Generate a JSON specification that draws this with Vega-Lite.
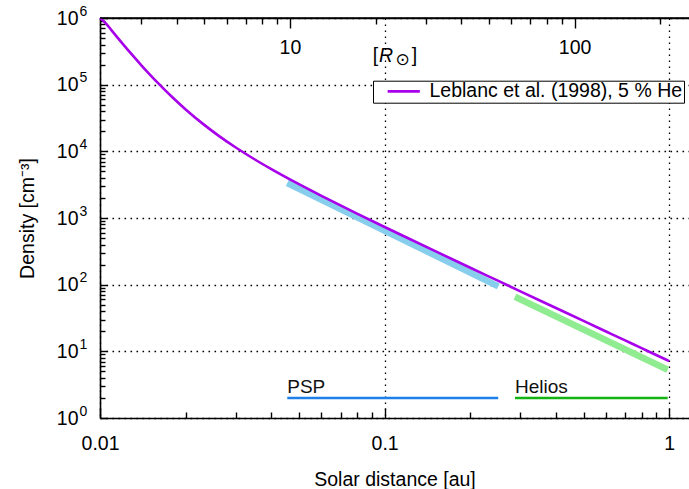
{
  "$schema": "https://vega.github.io/schema/vega-lite/v6.json",
  "width": 590,
  "height": 400,
  "autosize": {"type": "none"},
  "padding": {"left": 100, "top": 18, "right": 0, "bottom": 71},
  "background": "white",
  "config": {
    "view": {"stroke": null},
    "font": "Liberation Sans",
    "axis": {
      "domain": true,
      "ticks": true,
      "domainColor": "black",
      "domainWidth": 1.6,
      "tickColor": "black",
      "tickWidth": 1.4,
      "labelFont": "Liberation Sans",
      "labelFontSize": 19.5,
      "labelColor": "black",
      "labelOverlap": false,
      "labelFlush": false,
      "labelBound": false,
      "titleFont": "Liberation Sans",
      "titleFontSize": 19.5,
      "titleFontWeight": "normal",
      "titleColor": "black"
    }
  },
  "datasets": {
    "model": [
      {"series": "Leblanc et al. (1998), 5 % He", "r_au": 0.01, "n": 1000000},
      {"series": "Leblanc et al. (1998), 5 % He", "r_au": 0.0105, "n": 826365},
      {"series": "Leblanc et al. (1998), 5 % He", "r_au": 0.011, "n": 646737},
      {"series": "Leblanc et al. (1998), 5 % He", "r_au": 0.012, "n": 413053},
      {"series": "Leblanc et al. (1998), 5 % He", "r_au": 0.013, "n": 277024},
      {"series": "Leblanc et al. (1998), 5 % He", "r_au": 0.014, "n": 193807},
      {"series": "Leblanc et al. (1998), 5 % He", "r_au": 0.015, "n": 140643},
      {"series": "Leblanc et al. (1998), 5 % He", "r_au": 0.016, "n": 105372},
      {"series": "Leblanc et al. (1998), 5 % He", "r_au": 0.018, "n": 64087},
      {"series": "Leblanc et al. (1998), 5 % He", "r_au": 0.02, "n": 42471},
      {"series": "Leblanc et al. (1998), 5 % He", "r_au": 0.023, "n": 25810},
      {"series": "Leblanc et al. (1998), 5 % He", "r_au": 0.026, "n": 17374},
      {"series": "Leblanc et al. (1998), 5 % He", "r_au": 0.03, "n": 11407},
      {"series": "Leblanc et al. (1998), 5 % He", "r_au": 0.035, "n": 7544},
      {"series": "Leblanc et al. (1998), 5 % He", "r_au": 0.04, "n": 5408},
      {"series": "Leblanc et al. (1998), 5 % He", "r_au": 0.05, "n": 3214},
      {"series": "Leblanc et al. (1998), 5 % He", "r_au": 0.06, "n": 2148},
      {"series": "Leblanc et al. (1998), 5 % He", "r_au": 0.07, "n": 1543},
      {"series": "Leblanc et al. (1998), 5 % He", "r_au": 0.08, "n": 1165},
      {"series": "Leblanc et al. (1998), 5 % He", "r_au": 0.1, "n": 733.7},
      {"series": "Leblanc et al. (1998), 5 % He", "r_au": 0.12, "n": 505.1},
      {"series": "Leblanc et al. (1998), 5 % He", "r_au": 0.15, "n": 321.1},
      {"series": "Leblanc et al. (1998), 5 % He", "r_au": 0.2, "n": 179.6},
      {"series": "Leblanc et al. (1998), 5 % He", "r_au": 0.25, "n": 114.7},
      {"series": "Leblanc et al. (1998), 5 % He", "r_au": 0.3, "n": 79.5},
      {"series": "Leblanc et al. (1998), 5 % He", "r_au": 0.4, "n": 44.68},
      {"series": "Leblanc et al. (1998), 5 % He", "r_au": 0.5, "n": 28.58},
      {"series": "Leblanc et al. (1998), 5 % He", "r_au": 0.6, "n": 19.84},
      {"series": "Leblanc et al. (1998), 5 % He", "r_au": 0.7, "n": 14.57},
      {"series": "Leblanc et al. (1998), 5 % He", "r_au": 0.8, "n": 11.16},
      {"series": "Leblanc et al. (1998), 5 % He", "r_au": 0.9, "n": 8.81},
      {"series": "Leblanc et al. (1998), 5 % He", "r_au": 1.0, "n": 7.14}
    ],
    "bands": [
      {"mission": "PSP", "r_au": 0.0455, "n": 3350},
      {"mission": "PSP", "r_au": 0.2508, "n": 94.5},
      {"mission": "Helios", "r_au": 0.2872, "n": 66},
      {"mission": "Helios", "r_au": 0.988, "n": 5.3}
    ],
    "coverage": [
      {"mission": "PSP", "r_start": 0.0455, "r_end": 0.2508, "level": 2},
      {"mission": "Helios", "r_start": 0.2872, "r_end": 0.988, "level": 2}
    ],
    "unit": [
      {"part": "open", "t": "[", "r_au": 0.0908, "n": 221000},
      {"part": "italic", "t": "R", "r_au": 0.0956, "n": 221000},
      {"part": "sun", "t": "⊙", "r_au": 0.1092, "n": 196000},
      {"part": "close", "t": "]", "r_au": 0.1245, "n": 221000}
    ],
    "frame": [
      {"n": 1000000}
    ]
  },
  "layer": [
    {
      "data": {"name": "bands"},
      "mark": {"type": "line", "strokeWidth": 6.5, "strokeCap": "butt"},
      "encoding": {
        "x": {
          "field": "r_au", "type": "quantitative",
          "scale": {"type": "log", "domain": [0.01, 1.1834], "nice": false},
          "axis": {
            "orient": "top",
            "title": null,
            "grid": false,
            "domain": true,
            "ticks": true,
            "values": [0.046505, 0.465047],
            "labelExpr": "format(round(datum.value*215.032), 'd')",
            "tickSize": -10,
            "labelPadding": -10.5,
            "labelBaseline": "top"
          }
        },
        "y": {
          "field": "n", "type": "quantitative",
          "scale": {"type": "log", "domain": [1, 1000000], "nice": false},
          "axis": {
            "orient": "left",
            "title": "Density [cm⁻³]",
            "titleX": -66.7,
            "titleY": 200,
            "titleAngle": -90,
            "titleBaseline": "alphabetic",
            "values": [1, 2, 3, 4, 5, 6, 7, 8, 9, 10, 20, 30, 40, 50, 60, 70, 80, 90, 100, 200, 300, 400, 500, 600, 700, 800, 900, 1000, 2000, 3000, 4000, 5000, 6000, 7000, 8000, 9000, 10000, 20000, 30000, 40000, 50000, 60000, 70000, 80000, 90000, 100000, 200000, 300000, 400000, 500000, 600000, 700000, 800000, 900000, 1000000],
            "labelExpr": "abs(log(datum.value)/LN10 - round(log(datum.value)/LN10)) < 0.001 ? '10' : ''",
            "tickSize": {"condition": {"test": "abs(log(datum.value)/LN10 - round(log(datum.value)/LN10)) < 0.001", "value": -7}, "value": -5},
            "labelPadding": 29,
            "labelBaseline": "middle",
            "grid": true,
            "gridColor": "black",
            "gridDash": [1.6, 4.4],
            "gridWidth": 1.3,
            "gridOpacity": {"condition": {"test": "abs(log(datum.value)/LN10 - round(log(datum.value)/LN10)) < 0.001", "value": 1}, "value": 0}
          }
        },
        "detail": {"field": "mission"},
        "color": {"condition": {"test": "datum.mission == 'PSP'", "value": "#87ceec"}, "value": "#90ec90"}
      }
    },
    {
      "data": {"name": "model"},
      "mark": {"type": "line", "strokeWidth": 2.6, "interpolate": "monotone"},
      "encoding": {
        "x": {
          "field": "r_au", "type": "quantitative",
          "scale": {"type": "log", "domain": [0.01, 1.1834], "nice": false},
          "axis": {
            "orient": "bottom",
            "title": "Solar distance [au]",
            "titleX": 294.5,
            "titleY": 67,
            "titleBaseline": "alphabetic",
            "values": [0.01, 0.02, 0.03, 0.04, 0.05, 0.06, 0.07, 0.08, 0.09, 0.1, 0.2, 0.3, 0.4, 0.5, 0.6, 0.7, 0.8, 0.9, 1],
            "labelExpr": "abs(log(datum.value)/LN10 - round(log(datum.value)/LN10)) < 0.001 ? format(datum.value, '~g') : ''",
            "tickSize": {"condition": {"test": "abs(log(datum.value)/LN10 - round(log(datum.value)/LN10)) < 0.001", "value": -10}, "value": -6},
            "labelPadding": 26,
            "labelBaseline": "top",
            "grid": true,
            "gridColor": "black",
            "gridDash": [1.6, 4.4],
            "gridWidth": 1.3,
            "gridOpacity": {"condition": {"test": "abs(log(datum.value)/LN10 - round(log(datum.value)/LN10)) < 0.001", "value": 1}, "value": 0}
          }
        },
        "y": {
          "field": "n", "type": "quantitative",
          "scale": {"type": "log", "domain": [1, 1000000], "nice": false},
          "axis": {
            "orient": "left",
            "title": null,
            "domain": false,
            "ticks": false,
            "grid": false,
            "values": [1, 10, 100, 1000, 10000, 100000, 1000000],
            "labelExpr": "format(round(log(datum.value)/LN10), 'd')",
            "labelFontSize": 14,
            "labelAlign": "left",
            "labelBaseline": "middle",
            "labelPadding": 21,
            "labelOffset": -7
          }
        },
        "color": {
          "field": "series", "type": "nominal",
          "scale": {"range": ["#a800ea"]},
          "legend": {
            "title": null,
            "orient": "none",
            "legendX": 273,
            "legendY": 62.7,
            "padding": 1,
            "strokeColor": "black",
            "fillColor": "white",
            "symbolType": "M-2.3,0H2.3",
            "symbolSize": 196,
            "symbolStrokeWidth": 2.7,
            "symbolOffset": 20,
            "labelOffset": 16,
            "labelFont": "Liberation Sans",
            "labelFontSize": 19.5,
            "labelColor": "black",
            "labelLimit": 400
          }
        }
      }
    },
    {
      "data": {"name": "coverage"},
      "mark": {"type": "rule", "strokeWidth": 2.6},
      "encoding": {
        "x": {
          "field": "r_start", "type": "quantitative",
          "scale": {"type": "log", "domain": [0.01, 1.1834], "nice": false},
          "axis": {
            "orient": "top",
            "title": null,
            "grid": false,
            "domain": false,
            "labels": false,
            "ticks": true,
            "values": [0.013952, 0.018602, 0.023253, 0.027903, 0.032553, 0.037204, 0.041854, 0.093009, 0.139514, 0.186019, 0.232523, 0.279028, 0.325533, 0.372037, 0.418542, 0.930094],
            "tickSize": -6
          }
        },
        "x2": {"field": "r_end"},
        "y": {"field": "level", "type": "quantitative", "scale": {"type": "log", "domain": [1, 1000000], "nice": false}, "axis": null},
        "color": {"condition": {"test": "datum.mission == 'PSP'", "value": "#1f80ea"}, "value": "#12b412"}
      }
    },
    {
      "data": {"name": "frame"},
      "mark": {"type": "rule", "strokeWidth": 1.6, "color": "black"},
      "encoding": {
        "y": {"field": "n", "type": "quantitative", "scale": {"type": "log", "domain": [1, 1000000], "nice": false}, "axis": null}
      }
    },
    {
      "data": {"name": "coverage"},
      "mark": {"type": "text", "align": "left", "baseline": "alphabetic", "dy": -5, "fontSize": 19, "font": "Liberation Sans", "color": "#111111"},
      "encoding": {
        "x": {"field": "r_start", "type": "quantitative", "scale": {"type": "log", "domain": [0.01, 1.1834], "nice": false}, "axis": null},
        "y": {"field": "level", "type": "quantitative", "scale": {"type": "log", "domain": [1, 1000000], "nice": false}, "axis": null},
        "text": {"field": "mission"}
      }
    },
    {
      "data": {"name": "unit"},
      "transform": [{"filter": "datum.part == 'open' || datum.part == 'close'"}],
      "mark": {"type": "text", "align": "left", "baseline": "alphabetic", "fontSize": 19.5, "font": "Liberation Sans", "color": "black"},
      "encoding": {
        "x": {"field": "r_au", "type": "quantitative", "scale": {"type": "log", "domain": [0.01, 1.1834], "nice": false}, "axis": null},
        "y": {"field": "n", "type": "quantitative", "scale": {"type": "log", "domain": [1, 1000000], "nice": false}, "axis": null},
        "text": {"field": "t"}
      }
    },
    {
      "data": {"name": "unit"},
      "transform": [{"filter": "datum.part == 'italic'"}],
      "mark": {"type": "text", "align": "left", "baseline": "alphabetic", "fontSize": 19.5, "fontStyle": "italic", "font": "Liberation Sans", "color": "black"},
      "encoding": {
        "x": {"field": "r_au", "type": "quantitative", "scale": {"type": "log", "domain": [0.01, 1.1834], "nice": false}, "axis": null},
        "y": {"field": "n", "type": "quantitative", "scale": {"type": "log", "domain": [1, 1000000], "nice": false}, "axis": null},
        "text": {"field": "t"}
      }
    },
    {
      "data": {"name": "unit"},
      "transform": [{"filter": "datum.part == 'sun'"}],
      "mark": {"type": "text", "align": "left", "baseline": "alphabetic", "fontSize": 17, "font": "DejaVu Sans", "color": "black"},
      "encoding": {
        "x": {"field": "r_au", "type": "quantitative", "scale": {"type": "log", "domain": [0.01, 1.1834], "nice": false}, "axis": null},
        "y": {"field": "n", "type": "quantitative", "scale": {"type": "log", "domain": [1, 1000000], "nice": false}, "axis": null},
        "text": {"field": "t"}
      }
    }
  ],
  "resolve": {"axis": {"x": "independent", "y": "independent"}}
}
